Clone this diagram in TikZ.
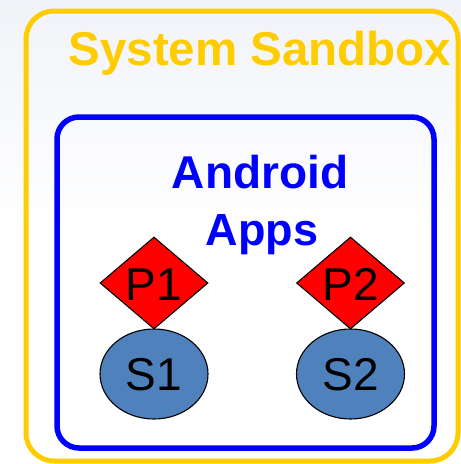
\documentclass[tikz,border=0pt]{standalone}
\usepackage{fontspec}
\setmainfont{Liberation Sans}
\usetikzlibrary{shapes.geometric}
\definecolor{sandyellow}{RGB}{255,204,0}
\definecolor{appblue}{RGB}{0,0,255}
\definecolor{servblue}{RGB}{79,129,189}
\definecolor{bgtop}{RGB}{241,243,248}
\tikzset{
  sandbox/.style={draw=sandyellow, line width=5pt, rounded corners=28pt},
  appbox/.style={draw=appblue, line width=5.5pt, rounded corners=22pt},
  perm/.style={diamond, draw=black, line width=1.1pt, fill=red, minimum width=108pt, minimum height=92pt, inner sep=0pt},
  serv/.style={ellipse, draw=black, line width=1.1pt, fill=servblue, minimum width=108pt, minimum height=90pt, inner sep=0pt},
  lbl/.style={anchor=base, inner sep=0pt, font=\fontsize{46}{46}\selectfont, text=black},
}
\begin{document}
\begin{tikzpicture}[x=1pt,y=-1pt]
\useasboundingbox (0,0) rectangle (461,464);
\shade[top color=bgtop, bottom color=white, middle color=white] (0,0) rectangle (461,464);
\draw[sandbox] (26,11) rectangle (458,461);
\draw[appbox] (57,117) rectangle (434,448);
\node[anchor=base, inner sep=0pt, text=sandyellow, font=\fontsize{47.5}{47.5}\selectfont\bfseries] (title) at (260,65) {System Sandbox};
\node[anchor=base, inner sep=0pt, text=appblue, font=\fontsize{46}{46}\selectfont\bfseries] (apps1) at (260,188) {Android};
\node[anchor=base, inner sep=0pt, text=appblue, font=\fontsize{45}{45}\selectfont\bfseries] (apps2) at (262,245) {Apps};
\node[perm] (P1) at (154,283) {};
\node[serv] (S1) at (154,374) {};
\node[perm] (P2) at (350.5,283) {};
\node[serv] (S2) at (350.5,374) {};
\node[lbl] (tP1) at (154,300) {P1};
\node[lbl] (tS1) at (154,390) {S1};
\node[lbl] (tP2) at (350.5,300) {P2};
\node[lbl] (tS2) at (350.5,390) {S2};
\end{tikzpicture}
\end{document}
